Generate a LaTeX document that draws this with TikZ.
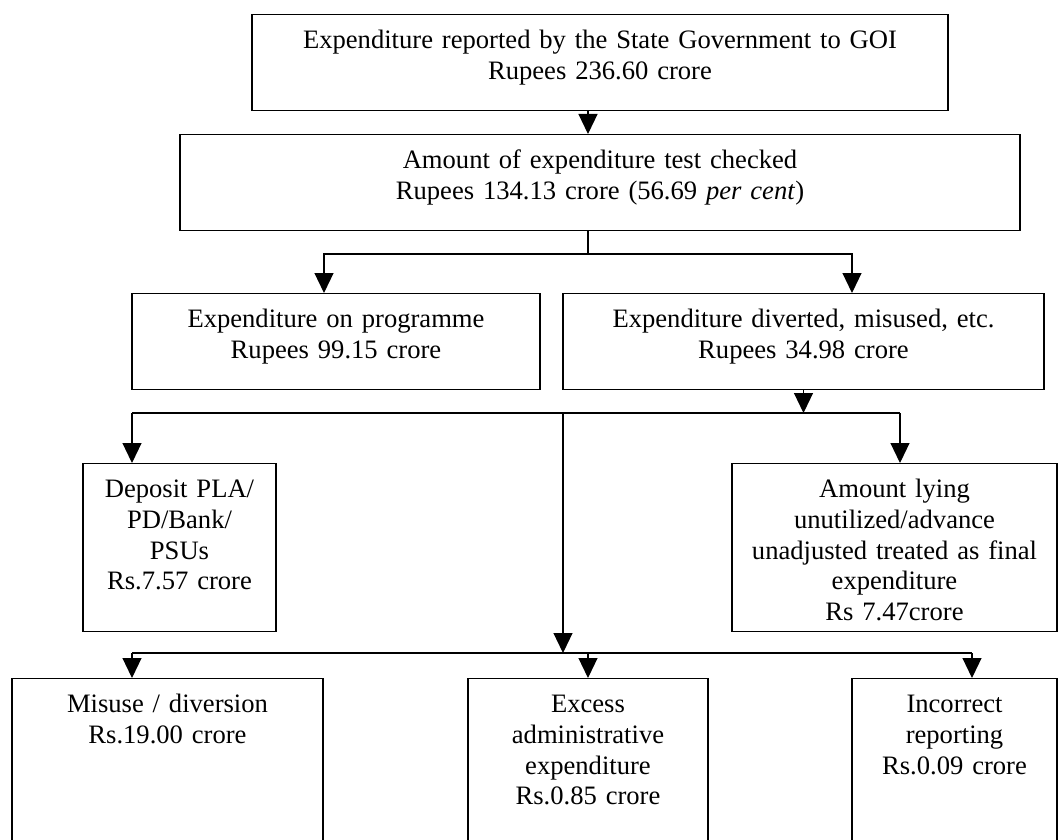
\documentclass[tikz,border=0pt]{standalone}
\usepackage{fontspec}
\setmainfont{Liberation Serif}
\usetikzlibrary{arrows.meta, calc}

\newcommand{\boxfont}{\fontsize{26.6}{30.7}\selectfont}

\tikzset{
  flowbox/.style 2 args={draw, line width=1.2pt, anchor=north, inner sep=0pt,
    text width=#1, align=center, text height=34pt, text depth=#2, font=\boxfont},
  flowline/.style={line width=1.2pt},
  flowarrow/.style={line width=1.2pt, -{Triangle[length=20pt, width=19pt]}},
}

\begin{document}
\begin{tikzpicture}[x=1pt, y=-1pt]
  \useasboundingbox (0,0) rectangle (1058,840);
  \clip (0,0) rectangle (1058,840);

  % Top two boxes
  \node[flowbox={696pt}{62pt}] (reported) at (600,14)
    {Expenditure reported by the State Government to GOI\\Rupees 236.60 crore};
  \node[flowbox={840pt}{62pt}] (checked) at (600,134)
    {Amount of expenditure test checked\\Rupees 134.13 crore (56.69 \textit{per cent})};

  % Split of test checked amount
  \node[flowbox={408pt}{62pt}] (programme) at (336,293)
    {Expenditure on programme\\Rupees 99.15 crore};
  \node[flowbox={481pt}{62pt}] (diverted) at (803.5,293)
    {Expenditure diverted, misused, etc.\\Rupees 34.98 crore};

  % Second row
  \node[flowbox={193pt}{134pt}] (deposit) at (179.5,463)
    {Deposit PLA/\\PD/Bank/\\PSUs\\Rs.7.57 crore};
  \node[flowbox={325pt}{134pt}] (unutilized) at (894.5,463)
    {Amount lying\\unutilized/advance\\unadjusted treated as final\\expenditure\\Rs 7.47crore};

  % Bottom row (runs off the page)
  \node[flowbox={311pt}{140pt}] (misuse) at (167.5,678)
    {Misuse / diversion\\Rs.19.00 crore};
  \node[flowbox={240pt}{140pt}] (excess) at (588,678)
    {Excess\\administrative\\expenditure\\Rs.0.85 crore};
  \node[flowbox={205pt}{140pt}] (incorrect) at (954.5,678)
    {Incorrect\\reporting\\Rs.0.09 crore};

  % Turning points
  \coordinate (spine) at (588,0);
  \coordinate (progturn) at (324,254);
  \coordinate (divturn) at (852,254);
  \coordinate (depturn) at (132,413);
  \coordinate (unturn) at (900,413);
  \coordinate (midtop) at (563,413);
  \coordinate (midbot) at (563,653);
  \coordinate (misturn) at (132,653);
  \coordinate (incturn) at (972,653);

  % Connectors
  \draw[flowarrow] (reported.south -| spine) -- (checked.north -| spine);
  \draw[flowarrow] (checked.south -| spine) |- (progturn) -- (progturn |- programme.north);
  \draw[flowarrow] (checked.south -| spine) |- (divturn) -- (divturn |- diverted.north);

  \draw[flowarrow] (diverted.south) -- (diverted.south |- depturn);
  \draw[flowline] (depturn) -- (unturn);
  \draw[flowarrow] (depturn) -- (depturn |- deposit.north);
  \draw[flowarrow] (unturn) -- (unturn |- unutilized.north);
  \draw[flowarrow] (midtop) -- (midbot);

  \draw[flowline] (misturn) -- (incturn);
  \draw[flowarrow] (misturn) -- (misturn |- misuse.north);
  \draw[flowarrow] (spine |- midbot) -- (spine |- excess.north);
  \draw[flowarrow] (incturn) -- (incturn |- incorrect.north);
\end{tikzpicture}
\end{document}
